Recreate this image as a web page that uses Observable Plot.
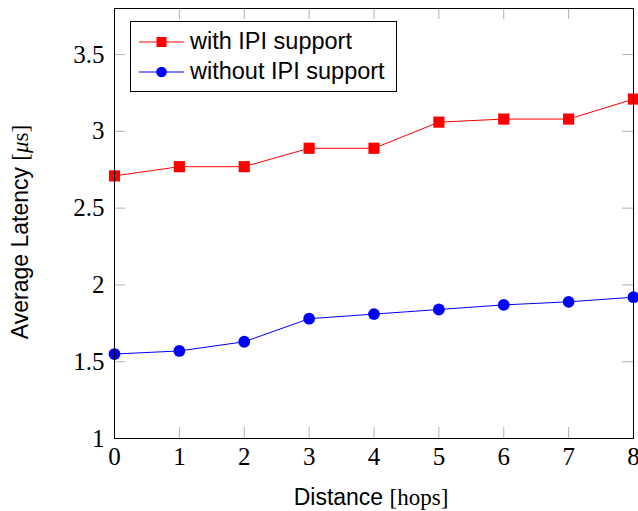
<!DOCTYPE html>
<html>
<head>
<meta charset="utf-8">
<script src="https://cdn.jsdelivr.net/npm/d3@7"></script>
<script src="https://cdn.jsdelivr.net/npm/@observablehq/plot@0.6"></script>
<style>
  html, body { margin: 0; padding: 0; background: #fff; }
  #wrap { position: relative; width: 638px; height: 511px; }
  #wrap svg text { font-family: "Liberation Serif", serif !important; font-size: 25px !important; fill: #000; }
  .lbl { position: absolute; font-family: "Liberation Sans", sans-serif; font-size: 23px; color: #000; white-space: nowrap; line-height: 1; }
  .serif { font-family: "Liberation Serif", serif; }
  #legend { position: absolute; left: 130px; top: 21px; width: 267px; height: 71px; border: 1px solid #000; background: #fff; box-sizing: border-box; }
  .row { position: absolute; left: 8px; height: 30px; display: flex; align-items: center; }
  .row span { font-family: "Liberation Sans", sans-serif; font-size: 23.5px; margin-left: 6px; line-height: 1; }
</style>
</head>
<body>
<div id="wrap"></div>
<script>
const distance = [0, 1, 2, 3, 4, 5, 6, 7, 8];
const withIPI = [2.71, 2.77, 2.77, 2.89, 2.89, 3.06, 3.08, 3.08, 3.21];
const withoutIPI = [1.55, 1.57, 1.63, 1.78, 1.81, 1.84, 1.87, 1.89, 1.92];
const xTicks = [0, 1, 2, 3, 4, 5, 6, 7, 8];
const yTicks = [1, 1.5, 2, 2.5, 3, 3.5];
const yTickLabels = ["1", "1.5", "2", "2.5", "3", "3.5"];
const seriesNames = ["with IPI support", "without IPI support"];
const colors = ["#ff0000", "#0000ff"];

const redData = distance.map((d, i) => ({x: d, y: withIPI[i]}));
const blueData = distance.map((d, i) => ({x: d, y: withoutIPI[i]}));

const tickColor = "#b0b0b0";
const W = 638, H = 511, mL = 114, mR = 5, mT = 8, mB = 73, tickLen = 11;
const innerW = W - mL - mR, innerH = H - mT - mB;
const chart = Plot.plot({
  width: W,
  height: H,
  marginLeft: mL,
  marginRight: mR,
  marginTop: mT,
  marginBottom: mB,
  style: {background: "#fff"},
  x: {domain: [0, 8]},
  y: {domain: [1, 3.8]},
  marks: [
    Plot.axisX({anchor: "bottom", ticks: xTicks, tickSize: 0, tickPadding: 9, label: null}),
    Plot.axisY({anchor: "left", ticks: yTicks, tickSize: 0, tickPadding: 10, label: null,
      tickFormat: d => yTickLabels[yTicks.indexOf(d)]}),
    Plot.tickX(xTicks, {x: d => d, stroke: tickColor, insetTop: innerH - tickLen, strokeWidth: 1}),
    Plot.tickX(xTicks, {x: d => d, stroke: tickColor, insetBottom: innerH - tickLen, strokeWidth: 1}),
    Plot.tickY(yTicks, {y: d => d, stroke: tickColor, insetRight: innerW - tickLen, strokeWidth: 1}),
    Plot.tickY(yTicks, {y: d => d, stroke: tickColor, insetLeft: innerW - tickLen, strokeWidth: 1}),
    Plot.line(redData, {x: "x", y: "y", stroke: colors[0], strokeWidth: 1}),
    Plot.dot(redData, {x: "x", y: "y", symbol: "square", r: 6.3, fill: colors[0], stroke: "none"}),
    Plot.line(blueData, {x: "x", y: "y", stroke: colors[1], strokeWidth: 1}),
    Plot.dot(blueData, {x: "x", y: "y", symbol: "circle", r: 5.9, fill: colors[1], stroke: "none"}),
    Plot.frame({stroke: "#000", strokeWidth: 1})
  ]
});
const wrap = document.getElementById("wrap");
wrap.appendChild(chart);

// Axis labels
const xl = document.createElement("div");
xl.className = "lbl";
xl.innerHTML = 'Distance <span class="serif">[hops]</span>';
xl.style.left = "371px"; xl.style.top = "497px"; xl.style.transform = "translate(-50%, -50%)";
wrap.appendChild(xl);

const yl = document.createElement("div");
yl.className = "lbl";
yl.innerHTML = 'Average Latency <span class="serif">[<i>μ</i>s]</span>';
yl.style.left = "20px"; yl.style.top = "232px";
yl.style.transform = "translate(-50%, -50%) rotate(-90deg)";
wrap.appendChild(yl);

// Legend
const leg = document.createElement("div");
leg.id = "legend";
const shapes = [
  '<rect x="17.5" y="10" width="10" height="10" fill="' + colors[0] + '"/>',
  '<circle cx="22.5" cy="15" r="5.3" fill="' + colors[1] + '"/>'
];
seriesNames.forEach((name, i) => {
  const r = document.createElement("div");
  r.className = "row";
  r.style.top = (5 + i * 30) + "px";
  r.innerHTML = '<svg width="45" height="30"><line x1="0" y1="15" x2="45" y2="15" stroke="' + colors[i] + '" stroke-width="1"/>' + shapes[i] + '</svg><span>' + name + '</span>';
  leg.appendChild(r);
});
wrap.appendChild(leg);
</script>
</body>
</html>
